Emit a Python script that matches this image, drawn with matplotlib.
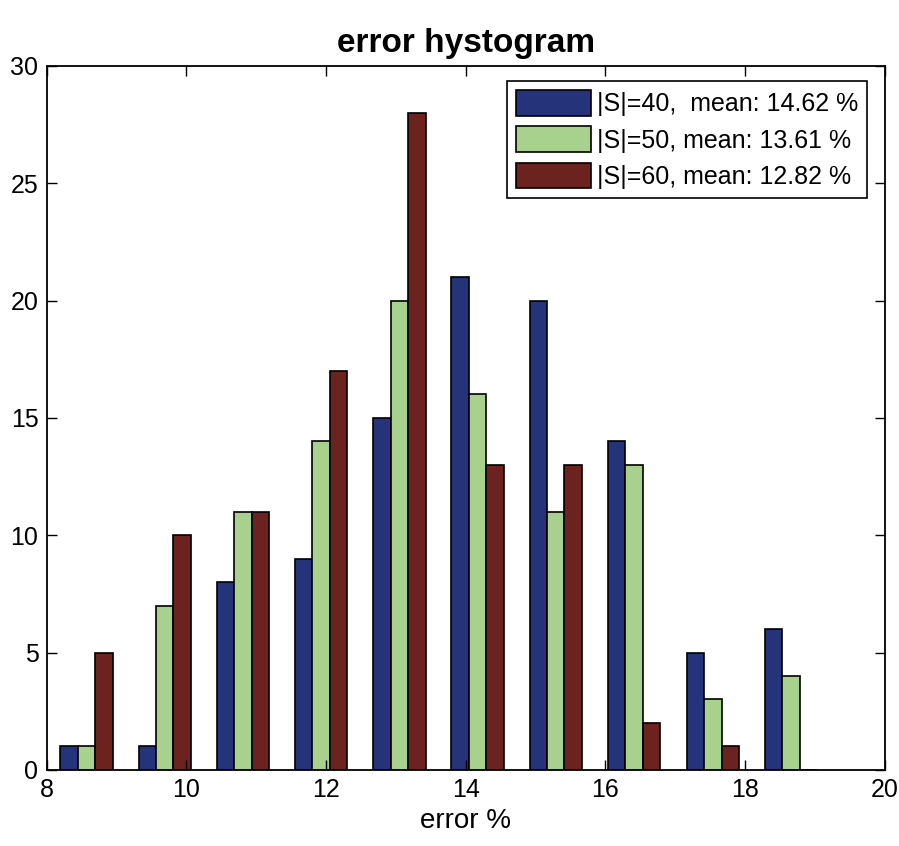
import numpy as np
import matplotlib
matplotlib.use("Agg")
import matplotlib.pyplot as plt

plt.rcParams['font.family'] = ['Liberation Sans', 'DejaVu Sans']

# bin centres of the histogram (error %)
bin_centres = [8.57, 9.69, 10.81, 11.93, 13.05, 14.17, 15.29, 16.41, 17.54, 18.66]
# counts per bin for each set size
counts_s40 = [1, 1, 8, 9, 15, 21, 20, 14, 5, 6]
counts_s50 = [1, 7, 11, 14, 20, 16, 11, 13, 3, 4]
counts_s60 = [5, 10, 11, 17, 28, 13, 13, 2, 1, 0]
labels = ['|S|=40,  mean: 14.62 %', '|S|=50, mean: 13.61 %', '|S|=60, mean: 12.82 %']
colors = ['#24337a', '#a8d18e', '#6c2320']

fig = plt.figure(figsize=(8.99, 8.46), dpi=100)
ax = fig.add_axes([0.052, 0.09, 0.932, 0.832])

w = 0.25
x = np.array(bin_centres)
for i, (c, col, lab) in enumerate(zip([counts_s40, counts_s50, counts_s60], colors, labels)):
    ax.bar(x + (i - 1) * w, c, width=w, color=col, edgecolor='black', linewidth=1.2, label=lab)

ax.set_xlim(8, 20)
ax.set_ylim(0, 30)
ax.set_xticks([8, 10, 12, 14, 16, 18, 20])
ax.set_yticks([0, 5, 10, 15, 20, 25, 30])
ax.tick_params(direction='in', length=7, width=1, top=True, right=True, labelsize=18, pad=6)
for s in ax.spines.values():
    s.set_linewidth(1.3)

ax.set_xlabel('error %', fontsize=20, labelpad=4)
ax.set_title('error hystogram', fontsize=24, fontweight='bold', pad=10)

leg = ax.legend(loc='upper right', fontsize=18, frameon=True, fancybox=False,
                framealpha=1, edgecolor='black', handlelength=3.0, handleheight=1.2,
                borderpad=0.35, labelspacing=0.4, handletextpad=0.25,
                borderaxespad=0.0, bbox_to_anchor=(0.979, 0.978))
leg.get_frame().set_linewidth(1.2)

fig.savefig('out.png', dpi=100)
